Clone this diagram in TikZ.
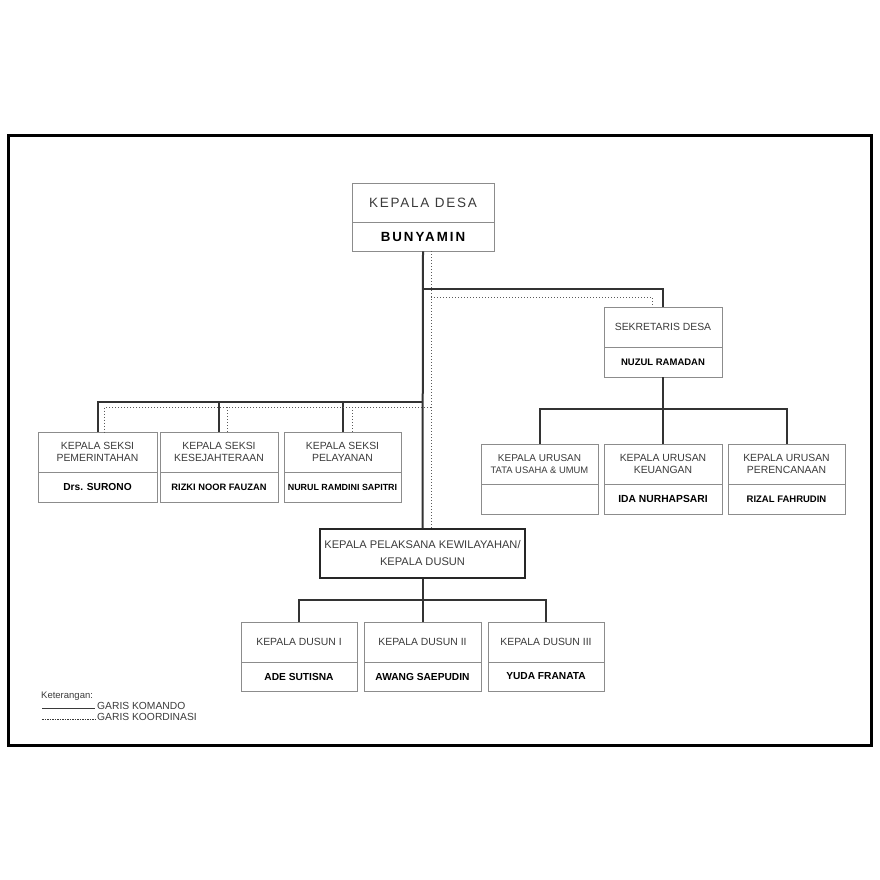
\documentclass[tikz,border=0pt]{standalone}
\usepackage{fontspec}
\setmainfont{Liberation Sans}
\usetikzlibrary{calc}
\definecolor{lbl}{HTML}{3A3A3A}
\definecolor{bord}{HTML}{8C8C8C}
\definecolor{conn}{HTML}{333333}
\definecolor{dotc}{HTML}{5A5A5A}
\tikzset{
  tp/.style={draw=bord, line width=0.8pt, minimum width=118, minimum height=40, inner sep=0pt, align=center, text=lbl, font=\fontsize{10.4}{12.3}\selectfont},
  bt/.style={draw=bord, line width=0.8pt, minimum width=118, minimum height=30, inner sep=0pt, align=center, text=black, font=\fontsize{9.5}{11}\selectfont\bfseries},
  cmd/.style={draw=conn, line width=2pt},
  crd/.style={draw=dotc, line width=1pt, dash pattern=on 1pt off 2pt},
}
\begin{document}
\begin{tikzpicture}[x=1pt,y=-1pt]
\useasboundingbox (0,0) rectangle (880,880);
\draw[line width=3pt, black] (8,135) rectangle (871,745);

% Kepala Desa
\node[tp, minimum width=142, minimum height=39, font=\fontsize{13.5}{15}\selectfont\addfontfeature{LetterSpace=13}] (kd) at (423,202.5) {KEPALA DESA};
\node[bt, minimum width=142, minimum height=29, font=\fontsize{13.3}{15}\selectfont\bfseries\addfontfeature{LetterSpace=15}] (kdn) at (423,236.5) {BUNYAMIN};

% Sekretaris
\node[tp] (sd) at (663,327) {SEKRETARIS DESA};
\node[bt] (sdn) at (663,362) {NUZUL RAMADAN};

% Seksi
\node[tp, minimum width=119] (s1) at (97.5,452) {KEPALA SEKSI\\PEMERINTAHAN};
\node[bt, minimum width=119, font=\fontsize{10.2}{12}\selectfont\bfseries] (s1n) at (97.5,487) {Drs. SURONO};
\node[tp] (s2) at (219,452) {KEPALA SEKSI\\KESEJAHTERAAN};
\node[bt, font=\fontsize{9.3}{11}\selectfont\bfseries] (s2n) at (219,487) {RIZKI NOOR FAUZAN};
\node[tp, minimum width=117] (s3) at (342.5,452) {KEPALA SEKSI\\PELAYANAN};
\node[bt, minimum width=117, font=\fontsize{8.9}{10}\selectfont\bfseries] (s3n) at (342.5,487) {NURUL RAMDINI SAPITRI};

% Urusan
\node[tp, minimum width=117, font=\fontsize{10}{11.5}\selectfont] (u1) at (539.5,464) {KEPALA URUSAN\\\fontsize{9.4}{11}\selectfont TATA USAHA \& UMUM};
\node[bt, minimum width=117] (u1n) at (539.5,499) {};
\node[tp] (u2) at (663,464) {KEPALA URUSAN\\KEUANGAN};
\node[bt, font=\fontsize{10.3}{12}\selectfont\bfseries] (u2n) at (663,499) {IDA NURHAPSARI};
\node[tp, minimum width=117] (u3) at (786.5,464) {KEPALA URUSAN\\PERENCANAAN};
\node[bt, minimum width=117] (u3n) at (786.5,499) {RIZAL FAHRUDIN};

% Pelaksana
\node[draw=black!85, line width=1.3pt, minimum width=205, minimum height=49, inner sep=0pt, align=center, text=lbl, font=\fontsize{11.1}{17}\selectfont] (pk) at (422.5,553.5) {KEPALA PELAKSANA KEWILAYAHAN/\\KEPALA DUSUN};

% Dusun
\node[tp, minimum width=116] (d1) at (299,642) {KEPALA DUSUN I};
\node[bt, minimum width=116, minimum height=29, font=\fontsize{10.2}{12}\selectfont\bfseries] (d1n) at (299,676.5) {ADE SUTISNA};
\node[tp, minimum width=117] (d2) at (422.5,642) {KEPALA DUSUN II};
\node[bt, minimum width=117, minimum height=29, font=\fontsize{10.2}{12}\selectfont\bfseries] (d2n) at (422.5,676.5) {AWANG SAEPUDIN};
\node[tp, minimum width=116] (d3) at (546,642) {KEPALA DUSUN III};
\node[bt, minimum width=116, minimum height=29, font=\fontsize{10.2}{12}\selectfont\bfseries] (d3n) at (546,676.5) {YUDA FRANATA};

% junctions
\coordinate (jA) at (423,289);
\coordinate (jB) at (423,402);
\coordinate (jC) at (663,409);
\coordinate (jD) at (423,600);
\coordinate (cA) at (431,297);
\coordinate (cB) at (431,407);

% garis komando
\draw[cmd] (kdn.south) -- (pk.north);
\draw[cmd] (jA) -| (sd.north);
\draw[cmd] (jB) -| (s1.north);
\draw[cmd] (s2.north) -- (s2.north |- jB);
\draw[cmd] (s3.north) -- (s3.north |- jB);
\draw[cmd] (sdn.south) -- (u2.north);
\draw[cmd] (u1.north) |- (u3.north |- jC) -- (u3.north);
\draw[cmd] (pk.south) -- (d2.north);
\draw[cmd] (d1.north) |- (d3.north |- jD) -- (d3.north);

% garis koordinasi
\draw[crd] ($(kdn.south)+(8,0)$) -- ($(pk.north)+(8.5,0)$);
\draw[crd] (cA) -| ($(sd.north)+(-11,0)$);
\draw[crd] (cB) -| ($(s1.north)+(7,0)$);
\draw[crd] ($(s2.north |- cB)+(8,0)$) -- ($(s2.north)+(8,0)$);
\draw[crd] ($(s3.north |- cB)+(9.5,0)$) -- ($(s3.north)+(9.5,0)$);

% legend
\node[anchor=base west, inner sep=0pt, text=lbl, font=\fontsize{9.5}{11}\selectfont] (ket) at (41,698) {Keterangan:};
\coordinate (l1a) at (42,708.5);
\coordinate (l1b) at (95,708.5);
\coordinate (l2a) at (42,719);
\coordinate (l2b) at (95,719);
\draw[draw=lbl, line width=0.6pt] (l1a) -- (l1b);
\draw[draw=lbl, line width=0.6pt, dash pattern=on 1.6pt off 0.9pt] (l2a) -- (l2b);
\node[anchor=base west, inner sep=0pt, text=lbl, font=\fontsize{10.3}{12}\selectfont] (gk) at (97,709) {GARIS KOMANDO};
\node[anchor=base west, inner sep=0pt, text=lbl, font=\fontsize{10.3}{12}\selectfont] (gc) at (97,720.5) {GARIS KOORDINASI};
\end{tikzpicture}
\end{document}
